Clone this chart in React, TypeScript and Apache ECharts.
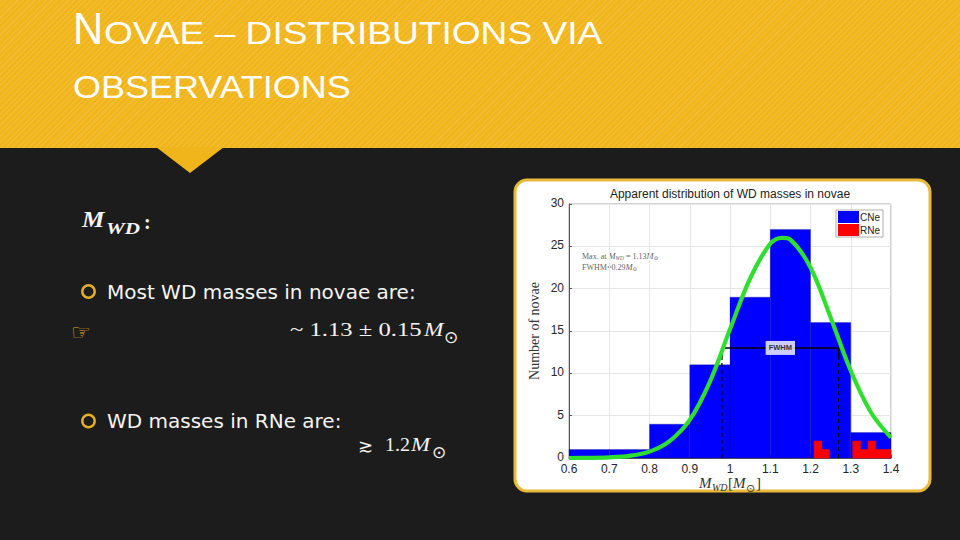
import React, { useEffect, useRef } from "react";
import * as echarts from "echarts";

// ---- data ----
const cneStart = [0.6, 0.7, 0.8, 0.9, 1.0, 1.1, 1.2, 1.3];
const cneEnd = [0.7, 0.8, 0.9, 1.0, 1.1, 1.2, 1.3, 1.4];
const cneCounts = [1, 1, 4, 11, 19, 27, 16, 3];

const rneStart = [1.209, 1.228, 1.305, 1.324, 1.343, 1.362, 1.381];
const rneEnd = [1.228, 1.247, 1.324, 1.343, 1.362, 1.381, 1.4];
const rneCounts = [2, 1, 2, 1, 2, 1, 1];

const curveX = [0.6, 0.65, 0.7, 0.75, 0.8, 0.85, 0.9, 0.95, 1.0, 1.05, 1.1, 1.13, 1.15, 1.2, 1.25, 1.3, 1.35, 1.4];
const curveY = [0.0, 0.02, 0.08, 0.25, 0.75, 2.0, 4.5, 9.0, 15.2, 21.2, 25.3, 26.0, 25.8, 22.5, 16.6, 10.3, 5.4, 2.4];

const fwhmLo = 0.98;
const fwhmHi = 1.27;
const halfMax = 13;
const bracketLow = 11.8;

const xTicks = { min: 0.6, max: 1.4, step: 0.1 };
const yTicks = { min: 0, max: 30, step: 5 };

const seriesNames = ["CNe", "RNe"];

const SERIF = "'Liberation Serif', 'DejaVu Serif', serif";
const SANS = "'Liberation Sans', Arial, sans-serif";
const BODY = "'DejaVu Sans', sans-serif";

// baseline -> middle offset factors (central baseline)
const K_SANS = 0.3465;
const K_SERIF = 0.3375;
const K_BODY = 0.346;

function barRenderer(fill: string, stroke: string) {
  return (_params: any, api: any) => {
    const x0 = api.value(0);
    const x1 = api.value(1);
    const h = api.value(2);
    const p0 = api.coord([x0, h]);
    const p1 = api.coord([x1, 0]);
    return {
      type: "rect",
      shape: { x: p0[0], y: p0[1], width: p1[0] - p0[0], height: p1[1] - p0[1] },
      style: { fill, stroke, lineWidth: 0.6 },
    };
  };
}

function txt(
  text: string,
  x: number,
  baseline: number,
  fontSize: number,
  family: string,
  k: number,
  fill: string,
  extra: any = {},
  scaleX = 1
) {
  return {
    type: "text",
    x,
    y: baseline - k * fontSize,
    scaleX,
    style: { text, fill, fontSize, fontFamily: family, verticalAlign: "middle", ...extra },
  };
}

export default function App() {
  const ref = useRef<HTMLDivElement>(null);

  useEffect(() => {
    if (!ref.current) return;
    const chart = echarts.init(ref.current, undefined, { renderer: "svg" });

    const cneData = cneStart.map((s, i) => [s, cneEnd[i], cneCounts[i]]);
    const rneData = rneStart.map((s, i) => [s, rneEnd[i], rneCounts[i]]);
    const curveData = curveX.map((x, i) => [x, curveY[i]]);

    const white = "#f4f4f4";
    const it = { fontStyle: "italic" };
    const bi = { fontStyle: "italic", fontWeight: "bold" };

    const option: any = {
      animation: false,
      backgroundColor: "transparent",
      grid: {
        left: 569,
        right: 69,
        top: 204,
        bottom: 82,
        show: true,
        borderColor: "#a8a8a8",
        borderWidth: 1,
        backgroundColor: "transparent",
      },
      xAxis: {
        type: "value",
        min: xTicks.min,
        max: xTicks.max,
        interval: xTicks.step,
        axisLine: { show: true, lineStyle: { color: "#555", width: 1 } },
        axisTick: { show: true, inside: true, length: 3, lineStyle: { color: "#555" } },
        axisLabel: {
          color: "#262626",
          fontSize: 12,
          fontFamily: SANS,
          margin: 5,
          formatter: (v: number) => String(Math.round(v * 10) / 10),
        },
        splitLine: { show: true, lineStyle: { color: "#e6e6e6", width: 1 } },
      },
      yAxis: {
        type: "value",
        min: yTicks.min,
        max: yTicks.max,
        interval: yTicks.step,
        name: "Number of novae",
        nameLocation: "middle",
        nameGap: 28,
        nameTextStyle: { color: "#333", fontSize: 14, fontFamily: SERIF },
        axisLine: { show: true, lineStyle: { color: "#555", width: 1 } },
        axisTick: { show: true, inside: true, length: 3, lineStyle: { color: "#555" } },
        axisLabel: { color: "#262626", fontSize: 12, fontFamily: SANS, margin: 5, verticalAlign: "bottom", padding: [0, 0, -5, 0] },
        splitLine: { show: true, lineStyle: { color: "#e6e6e6", width: 1 } },
      },
      legend: {
        orient: "vertical",
        left: 836,
        top: 210,
        itemWidth: 21,
        itemHeight: 12,
        itemGap: 1,
        padding: [1, 3, 1, 2],
        backgroundColor: "#fff",
        borderColor: "#999",
        borderWidth: 0.8,
        selectedMode: false,
        textStyle: { color: "#222", fontSize: 10, fontFamily: SANS, padding: [0, 0, 0, -4] },
        data: [
          { name: seriesNames[0], icon: "rect", itemStyle: { color: "#0000ff" } },
          { name: seriesNames[1], icon: "rect", itemStyle: { color: "#ff0000" } },
        ],
      },
      series: [
        {
          name: seriesNames[0],
          type: "custom",
          renderItem: barRenderer("#0000ff", "rgba(0,0,110,0.45)"),
          data: cneData,
          encode: { x: [0, 1], y: 2 },
          itemStyle: { color: "#0000ff" },
          z: 2,
        },
        {
          name: seriesNames[1],
          type: "custom",
          renderItem: barRenderer("#ff0000", "#ff0000"),
          data: rneData,
          encode: { x: [0, 1], y: 2 },
          itemStyle: { color: "#ff0000" },
          z: 3,
        },
        {
          type: "line",
          data: [[fwhmLo, 0], [fwhmLo, bracketLow]],
          symbol: "none",
          lineStyle: { color: "#000", width: 1.2, type: [4, 3] },
          z: 4,
        },
        {
          type: "line",
          data: [[fwhmHi, 0], [fwhmHi, bracketLow]],
          symbol: "none",
          lineStyle: { color: "#000", width: 1.2, type: [4, 3] },
          z: 4,
        },
        {
          type: "line",
          data: [[fwhmLo, bracketLow], [fwhmLo, halfMax], [fwhmHi, halfMax], [fwhmHi, bracketLow]],
          symbol: "none",
          lineStyle: { color: "#000", width: 1.6 },
          z: 4,
        },
        {
          type: "line",
          data: curveData,
          smooth: 0.35,
          symbol: "none",
          lineStyle: { color: "#2fdf2f", width: 4.2 },
          z: 6,
        },
        {
          type: "scatter",
          data: [[(fwhmLo + fwhmHi) / 2, halfMax]],
          symbolSize: 0,
          z: 7,
          label: {
            show: true,
            position: "inside",
            formatter: "FWHM",
            color: "#000",
            fontSize: 7.5,
            fontWeight: "bold",
            fontFamily: SANS,
            backgroundColor: "#fff",
            padding: [3, 3, 3, 3],
          },
        },
      ],
      graphic: [
        // triangle pointer of banner
        {
          type: "polygon",
          shape: { points: [[156, 147], [224, 147], [190, 173]] },
          style: { fill: "#F1B51C" },
          z: 0,
        },
        // chart panel
        {
          type: "rect",
          shape: { x: 515, y: 180, width: 415, height: 311, r: 12 },
          style: { fill: "#ffffff", stroke: "#E8BA3C", lineWidth: 3 },
          z: -5,
        },
        // slide title
        txt("N", 73, 44.3, 44, SANS, K_SANS, "#fff", {}, 0.95),
        txt("OVAE – DISTRIBUTIONS VIA", 104, 44.3, 32, SANS, K_SANS, "#fff", {}, 1.16),
        txt("OBSERVATIONS", 73, 98.3, 31, SANS, K_SANS, "#fff", {}, 1.16),
        // M_WD:
        txt("M", 82, 226.7, 24, SERIF, K_SERIF, white, bi, 1.05),
        txt("WD", 106, 234, 17, SERIF, K_SERIF, white, bi, 1.24),
        txt(":", 144, 229, 20, SERIF, K_SERIF, white, { fontWeight: "bold" }),
        // bullet 1
        { type: "circle", shape: { cx: 88.5, cy: 291.5, r: 6.2 }, style: { fill: "none", stroke: "#E3AE2A", lineWidth: 2.4 } },
        txt("Most WD masses in novae are:", 107, 299, 20, BODY, K_BODY, white),
        {
          type: "text",
          x: 71,
          y: 332,
          style: { text: "☞", fill: "#E0AC25", fontSize: 22, fontFamily: BODY, verticalAlign: "middle" },
        },
        txt("~ 1.13 ± 0.15", 290, 336, 18, SERIF, K_SERIF, white, {}, 1.37),
        txt("M", 424, 336, 18, SERIF, K_SERIF, white, it, 1.3),
        {
          type: "text",
          x: 444,
          y: 337,
          style: { text: "⊙", fill: white, fontSize: 17, fontFamily: BODY, verticalAlign: "middle" },
        },
        // bullet 2
        { type: "circle", shape: { cx: 88.5, cy: 421, r: 6.2 }, style: { fill: "none", stroke: "#E3AE2A", lineWidth: 2.4 } },
        txt("WD masses in RNe are:", 107, 428, 20, BODY, K_BODY, white),
        {
          type: "text",
          x: 358,
          y: 445,
          style: { text: "≳", fill: white, fontSize: 18, fontFamily: BODY, verticalAlign: "middle" },
        },
        txt("1.2", 385, 451, 19, SERIF, K_SERIF, white, {}, 1.05),
        txt("M", 411, 451, 19, SERIF, K_SERIF, white, it, 1.2),
        {
          type: "text",
          x: 432,
          y: 452,
          style: { text: "⊙", fill: white, fontSize: 17, fontFamily: BODY, verticalAlign: "middle" },
        },
        // chart title
        {
          type: "text",
          x: 730,
          y: 194,
          style: { text: "Apparent distribution of WD masses in novae", fill: "#222", fontSize: 12, fontFamily: SANS, align: "center", verticalAlign: "middle" },
        },
        // annotation
        {
          type: "text",
          x: 582,
          y: 256,
          style: {
            text: "Max. at {i|M}{s|WD} = 1.13{i|M}{s|⊙}",
            fill: "#666",
            fontSize: 8,
            fontFamily: SERIF,
            verticalAlign: "middle",
            rich: {
              i: { fontSize: 8.5, fontStyle: "italic", fontFamily: SERIF, fill: "#666" },
              s: { fontSize: 5.5, fontStyle: "italic", fontFamily: SERIF, fill: "#666", padding: [4, 0, 0, 0] },
            },
          },
        },
        {
          type: "text",
          x: 582,
          y: 267,
          style: {
            text: "FWHM=0.29{i|M}{s|⊙}",
            fill: "#666",
            fontSize: 8,
            fontFamily: SERIF,
            verticalAlign: "middle",
            rich: {
              i: { fontSize: 8.5, fontStyle: "italic", fontFamily: SERIF, fill: "#666" },
              s: { fontSize: 5.5, fontFamily: SERIF, fill: "#666", padding: [4, 0, 0, 0] },
            },
          },
        },
        // x-axis name
        txt("M", 699, 488, 15, SERIF, K_SERIF, "#333", it),
        txt("WD", 712, 491, 10, SERIF, K_SERIF, "#333", it),
        txt("[", 728, 488, 15, SERIF, K_SERIF, "#333"),
        txt("M", 733, 488, 15, SERIF, K_SERIF, "#333", it),
        {
          type: "text",
          x: 746,
          y: 488,
          style: { text: "⊙", fill: "#333", fontSize: 11, fontFamily: BODY, verticalAlign: "middle" },
        },
        txt("]", 756, 488, 15, SERIF, K_SERIF, "#333"),
      ],
    };

    chart.setOption(option);
    return () => chart.dispose();
  }, []);

  return (
    <div
      style={{
        position: "fixed",
        left: 0,
        top: 0,
        width: 960,
        height: 540,
        background: "#1c1c1c",
        overflow: "hidden",
      }}
    >
      <div
        style={{
          position: "absolute",
          left: 0,
          top: 0,
          width: 960,
          height: 148,
          backgroundColor: "#F1B51C",
          backgroundImage:
            "repeating-linear-gradient(135deg, rgba(255,255,255,0.10) 0px, rgba(255,255,255,0.10) 1.5px, rgba(0,0,0,0) 1.5px, rgba(0,0,0,0) 4px)",
        }}
      />
      <div ref={ref} style={{ position: "absolute", left: 0, top: 0, width: 960, height: 540 }} />
    </div>
  );
}
